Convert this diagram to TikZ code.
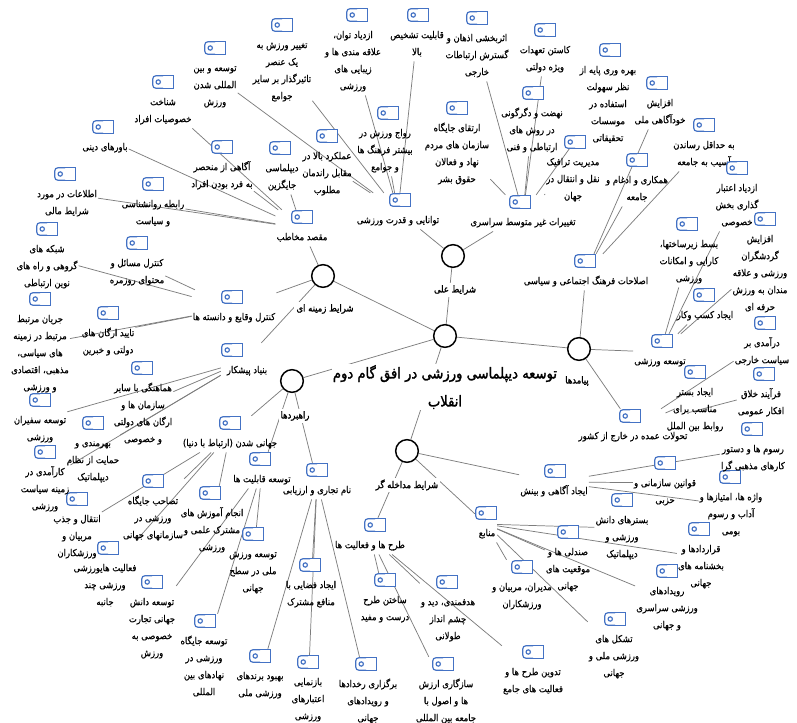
\documentclass[tikz,border=0pt]{standalone}
\usepackage{fontspec}
\newfontfamily\fafont[Script=Arabic,FakeStretch=0.88,FakeBold=0.5]{DejaVu Sans}
\newfontfamily\fabold[Script=Arabic,FakeBold=1.6,FakeStretch=0.88]{DejaVu Sans}
\TeXXeTstate=1
\usetikzlibrary{fit,calc,backgrounds}
\definecolor{tagblue}{RGB}{68,114,196}
\definecolor{lnk}{RGB}{125,125,125}
\newcommand{\fa}[1]{\strut\beginR #1\endR}
\newcommand{\mleaf}[4]{%
  \node[tagnode] (#1-i) at (#2) {};
  \draw[tagdraw, rounded corners=2.4pt] (#1-i.north) -- (#1-i.north west) -- (#1-i.south west) -- (#1-i.south);
  \draw[tagdraw] (#1-i.north) -- (#1-i.north east) -- (#1-i.south east) -- (#1-i.south);
  \draw[tagdraw] ($(#1-i.west)+(5.5,0)$) circle[radius=1.6pt];
  \node[leaftext] (#1-t) at ($(#1-i.center)+(#3,11)$) {#4};
  \node[fitnode, fit=(#1-i)(#1-t)] (#1) {};
}
\begin{document}
\begin{tikzpicture}[x=0.75pt,y=-0.75pt,
  conn/.style={draw=lnk, line width=0.55pt},
  tagnode/.style={rectangle, fill=white, minimum width=15pt, minimum height=9pt, inner sep=0pt},
  tagdraw/.style={draw=tagblue, line width=0.9pt},
  leaftext/.style={anchor=north, align=center, inner sep=0pt, font=\fafont\fontsize{7.2}{12.75}\selectfont},
  fitnode/.style={inner sep=0.5pt},
  hub/.style={circle, draw=black, line width=1.1pt, fill=white, minimum size=17pt, inner sep=0pt},
  hublabel/.style={fill=white, inner sep=1.5pt, font=\fabold\fontsize{7.2}{10}\selectfont},
  titlenode/.style={fill=white, inner sep=1pt, align=center, font=\fabold\fontsize{11.2}{21}\selectfont}
  ]
\useasboundingbox (0,0) rectangle (797,723);

% hubs
\node[hub] (C0) at (445,336) {};
\node[hub] (H1) at (453,256) {};
\node[hub] (H2) at (579,349) {};
\node[hub] (H3) at (407,451) {};
\node[hub] (H4) at (323,276) {};
\node[hub] (H5) at (292,381) {};
\node[hublabel] (H1l) at (455,290) {\beginR شرایط علی\endR};
\node[hublabel] (H2l) at (577,381) {\beginR پیامدها\endR};
\node[hublabel] (H3l) at (407,485) {\beginR شرایط مداخله گر\endR};
\node[hublabel] (H4l) at (325,309) {\beginR شرایط زمینه ای\endR};
\node[hublabel] (H5l) at (295,416) {\beginR راهبردها\endR};
\node[titlenode] (T) at (445,387) {\beginR توسعه دیپلماسی ورزشی در افق گام دوم\endR\\\beginR انقلاب\endR};

% شرایط علی
\mleaf{A1}{400,200}{-2}{\fa{توانایی و قدرت ورزشی}}
\mleaf{A2}{520,202}{3}{\fa{تغییرات غیر متوسط سراسری}}
\mleaf{a11}{357,15}{-4}{\fa{ازدیاد توان،}\\\fa{علاقه مندی ها و}\\\fa{زیبایی های}\\\fa{ورزشی}}
\mleaf{a12}{418,15}{-1}{\fa{قابلیت تشخیص}\\\fa{بالا}}
\mleaf{a13}{388,113}{-3}{\fa{رواج ورزش در}\\\fa{بیشتر فرهنگ ها}\\\fa{و جوامع}}
\mleaf{a14}{327,136}{0}{\fa{عملکرد بالا در}\\\fa{مقابل راندمان}\\\fa{مطلوب}}
\mleaf{a15}{282,25}{0}{\fa{تغییر ورزش به}\\\fa{یک عنصر}\\\fa{تاثیرگذار بر سایر}\\\fa{جوامع}}
\mleaf{a16}{215,48}{0}{\fa{توسعه و بین}\\\fa{المللی شدن}\\\fa{ورزش}}
\mleaf{a21}{477,18}{0}{\fa{اثربخشی اذهان و}\\\fa{گسترش ارتباطات}\\\fa{خارجی}}
\mleaf{a22}{545,30}{0}{\fa{کاستن تعهدات}\\\fa{ویژه دولتی}}
\mleaf{a23}{533,93}{-1}{\fa{نهضت و دگرگونی}\\\fa{در روش های}\\\fa{ارتباطی و فنی}}
\mleaf{a24}{457,108}{0}{\fa{ارتقای جایگاه}\\\fa{سازمان های مردم}\\\fa{نهاد و فعالان}\\\fa{حقوق بشر}}
\mleaf{a25}{575,142}{-2}{\fa{مدیریت ترافیک}\\\fa{نقل و انتقال در}\\\fa{جهان}}
\mleaf{a26}{610,50}{-2}{\fa{بهره وری پایه از}\\\fa{نظر سهولت}\\\fa{استفاده در}\\\fa{موسسات}\\\fa{تحقیقاتی}}

% پیامدها
\mleaf{B1}{585,261}{1}{\fa{اصلاحات فرهنگ اجتماعی و سیاسی}}
\mleaf{B2}{662,341}{-2}{\fa{توسعه ورزشی}}
\mleaf{B3}{630,416}{3}{\fa{تحولات عمده در خارج از کشور}}
\mleaf{b11}{657,83}{3}{\fa{افزایش}\\\fa{خودآگاهی ملی}}
\mleaf{b12}{704,125}{0}{\fa{به حداقل رساندن}\\\fa{آسیب به جامعه}}
\mleaf{b13}{637,160}{0}{\fa{همکاری و ادغام و}\\\fa{جامعه}}
\mleaf{b21}{687,224}{2}{\fa{بسط زیرساختها،}\\\fa{کارایی و امکانات}\\\fa{ورزشی}}
\mleaf{b22}{737,168}{0}{\fa{ازدیاد اعتبار}\\\fa{گذاری بخش}\\\fa{خصوصی}}
\mleaf{b23}{765,219}{-5}{\fa{افزایش}\\\fa{گردشگران}\\\fa{ورزشی و علاقه}\\\fa{مندان به ورزش}\\\fa{حرفه ای}}
\mleaf{b24}{704,295}{1}{\fa{ایجاد کسب وکار}}
\mleaf{b31}{765,323}{-3}{\fa{درآمدی بر}\\\fa{سیاست خارجی}}
\mleaf{b32}{764,374}{-3}{\fa{فرآیند خلاق}\\\fa{افکار عمومی}}
\mleaf{b33}{695,372}{0}{\fa{ایجاد بستر}\\\fa{مناسب برای}\\\fa{روابط بین الملل}}

% شرایط مداخله گر
\mleaf{C1}{555,471}{-1}{\fa{ایجاد آگاهی و بینش}}
\mleaf{C2}{486,513}{1}{\fa{منابع}}
\mleaf{C3}{375,525}{-5}{\fa{طرح ها و فعالیت ها}}
\mleaf{c11}{665,463}{0}{\fa{قوانین سازمانی و}\\\fa{حزبی}}
\mleaf{c12}{730,477}{1}{\fa{واژه ها، امتیازها و}\\\fa{آداب و رسوم}\\\fa{بومی}}
\mleaf{c13}{752,429}{1}{\fa{رسوم ها و دستور}\\\fa{کارهای مذهبی گرا}}
\mleaf{c21}{622,500}{0}{\fa{بسترهای دانش}\\\fa{ورزشی و}\\\fa{دیپلماتیک}}
\mleaf{c22}{568,532}{0}{\fa{صندلی ها و}\\\fa{موقعیت های}\\\fa{جهانی}}
\mleaf{c23}{522,567}{0}{\fa{مدیران، مربیان و}\\\fa{ورزشکاران}}
\mleaf{c24}{699,529}{2}{\fa{قراردادها و}\\\fa{بخشنامه های}\\\fa{جهانی}}
\mleaf{c25}{667,571}{0}{\fa{رویدادهای}\\\fa{ورزشی سراسری}\\\fa{و جهانی}}
\mleaf{c26}{615,619}{-1}{\fa{تشکل های}\\\fa{ورزشی ملی و}\\\fa{جهانی}}
\mleaf{c31}{385,580}{0}{\fa{ساختن طرح}\\\fa{درست و مفید}}
\mleaf{c32}{447,582}{1}{\fa{هدفمندی، دید و}\\\fa{چشم انداز}\\\fa{طولانی}}
\mleaf{c33}{443,664}{3}{\fa{سازگاری ارزش}\\\fa{ها و اصول با}\\\fa{جامعه بین المللی}}
\mleaf{c34}{533,652}{0}{\fa{تدوین طرح ها و}\\\fa{فعالیت های جامع}}

% راهبردها
\mleaf{D1}{230,423}{0}{\fa{جهانی شدن (ارتباط با دنیا)}}
\mleaf{D2}{260,459}{2}{\fa{توسعه قابلیت ها}}
\mleaf{D3}{317,470}{0}{\fa{نام تجاری و ارزیابی}}
\mleaf{d11}{77,499}{0}{\fa{انتقال و جذب}\\\fa{مربیان و}\\\fa{ورزشکاران}}
\mleaf{d12}{153,481}{0}{\fa{تصاحب جایگاه}\\\fa{ورزشی در}\\\fa{سازمانهای جهانی}}
\mleaf{d13}{108,548}{-3}{\fa{فعالیت هایورزشی}\\\fa{ورزشی چند}\\\fa{جانبه}}
\mleaf{d14}{210,493}{2}{\fa{انجام آموزش های}\\\fa{مشترک علمی و}\\\fa{ورزشی}}
\mleaf{d21}{152,582}{0}{\fa{توسعه دانش}\\\fa{جهانی تجارت}\\\fa{خصوصی به}\\\fa{ورزش}}
\mleaf{d22}{253,534}{0}{\fa{توسعه ورزش}\\\fa{ملی در سطح}\\\fa{جهانی}}
\mleaf{d23}{205,621}{-1}{\fa{توسعه جایگاه}\\\fa{ورزشی در}\\\fa{نهادهای بین}\\\fa{المللی}}
\mleaf{d31}{260,656}{0}{\fa{بهبود برندهای}\\\fa{ورزشی ملی}}
\mleaf{d32}{310,565}{1}{\fa{ایجاد فضایی با}\\\fa{منافع مشترک}}
\mleaf{d33}{308,662}{0}{\fa{بازنمایی}\\\fa{اعتبارهای}\\\fa{ورزشی}}
\mleaf{d34}{366,664}{2}{\fa{برگزاری رخدادها}\\\fa{و رویدادهای}\\\fa{جهانی}}

% شرایط زمینه ای
\mleaf{E1}{302,217}{0}{\fa{مقصد مخاطب}}
\mleaf{E2}{232,297}{2}{\fa{کنترل وقایع و دانسته ها}}
\mleaf{E3}{232,350}{15}{\fa{بنیاد پیشکار}}
\mleaf{e11}{163,82}{0}{\fa{شناخت}\\\fa{خصوصیات افراد}}
\mleaf{e12}{103,127}{2}{\fa{باورهای دینی}}
\mleaf{e13}{65,174}{2}{\fa{اطلاعات در مورد}\\\fa{شرایط مالی}}
\mleaf{e14}{153,184}{0}{\fa{رابطه روانشناسی}\\\fa{و سیاست}}
\mleaf{e15}{222,147}{0}{\fa{آگاهی از منحصر}\\\fa{به فرد بودن افراد}}
\mleaf{e16}{280,148}{2}{\fa{دیپلماسی}\\\fa{جایگزین}}
\mleaf{e21}{137,243}{0}{\fa{کنترل مسائل و}\\\fa{محتوای روزمره}}
\mleaf{e22}{47,229}{0}{\fa{شبکه های}\\\fa{گروهی و راه های}\\\fa{نوین ارتباطی}}
\mleaf{e23}{40,299}{0}{\fa{جریان مرتبط}\\\fa{مرتبط در زمینه}\\\fa{های سیاسی،}\\\fa{مذهبی، اقتصادی}\\\fa{و ورزشی}}
\mleaf{e24}{108,313}{0}{\fa{تایید ارگان های}\\\fa{دولتی و خبرین}}
\mleaf{e31}{142,368}{1}{\fa{هماهنگی با سایر}\\\fa{سازمان ها و}\\\fa{ارگان های دولتی}\\\fa{و خصوصی}}
\mleaf{e32}{40,400}{0}{\fa{توسعه سفیران}\\\fa{ورزشی}}
\mleaf{e33}{93,423}{0}{\fa{بهرمندی و}\\\fa{حمایت از نظام}\\\fa{دیپلماتیک}}
\mleaf{e34}{45,452}{0}{\fa{کارآمدی در}\\\fa{زمینه سیاست}\\\fa{ورزشی}}

\begin{scope}[on background layer]
\fill[white] (0,0) rectangle (797,723);
\foreach \p/\c in {C0/H1,C0/H2,C0/H3,C0/H4,C0/H5,
  H1/A1,H1/A2,H2/B1,H2/B2,H2/B3,H3/C1,H3/C2,H3/C3,H4/E1,H4/E2,H4/E3,H5/D1,H5/D2,H5/D3,
  A1/a11,A1/a12,A1/a13,A1/a14,A1/a15,A1/a16,
  A2/a21,A2/a22,A2/a23,A2/a24,A2/a25,A2/a26,
  B1/b11,B1/b12,B1/b13,B2/b21,B2/b22,B2/b23,B2/b24,B3/b31,B3/b32,B3/b33,
  C1/c11,C1/c12,C1/c13,C2/c21,C2/c22,C2/c23,C2/c24,C2/c25,C2/c26,
  C3/c31,C3/c32,C3/c33,C3/c34,
  D1/d11,D1/d12,D1/d13,D1/d14,D2/d21,D2/d22,D2/d23,D3/d31,D3/d32,D3/d33,D3/d34,
  E1/e11,E1/e12,E1/e13,E1/e14,E1/e15,E1/e16,E2/e21,E2/e22,E2/e23,E2/e24,
  E3/e31,E3/e32,E3/e33,E3/e34}
  \draw[conn] (\p) -- (\c);
\end{scope}
\end{tikzpicture}
\end{document}
